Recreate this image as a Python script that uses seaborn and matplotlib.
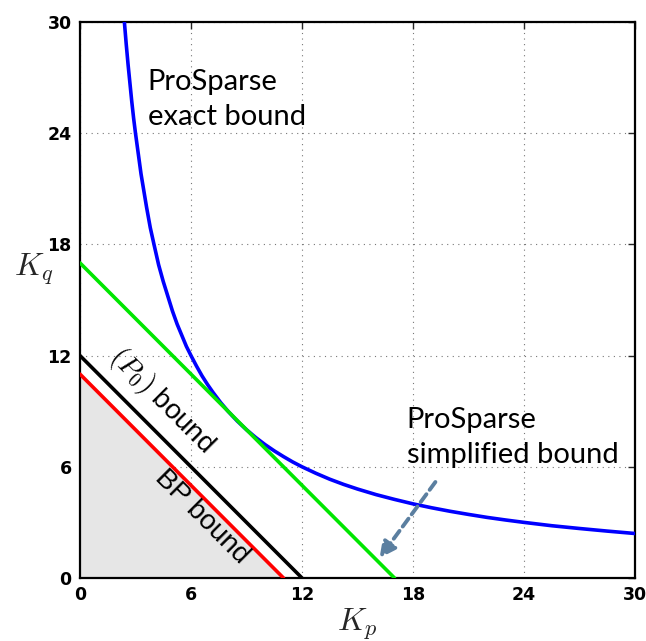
import matplotlib
matplotlib.use("Agg")
import matplotlib.pyplot as plt
import seaborn as sns

# values
kp_exact = [2.4, 2.5, 2.6, 2.7, 2.8, 2.9, 3.0, 3.15, 3.3, 3.45, 3.6, 3.8, 4.0, 4.25,
            4.5, 4.75, 5.0, 5.25, 5.5, 5.75, 6.0, 6.3, 6.6, 6.9, 7.2, 7.6, 8.0,
            8.5, 9.0, 9.5, 10.0, 10.5, 11.0, 11.5, 12.0, 12.75, 13.5, 14.25, 15.0,
            16.0, 17.0, 18.0, 19.0, 20.0, 21.0, 22.0, 23.0, 24.0, 25.5, 27.0,
            28.5, 30.0]
kq_exact = [30.0, 28.8, 27.7, 26.7, 25.7, 24.8, 24.0, 22.9, 21.8, 20.9, 20.0, 18.9,
            18.0, 16.9, 16.0, 15.2, 14.4, 13.7, 13.1, 12.5, 12.0, 11.43, 10.9,
            10.43, 10.0, 9.47, 9.0, 8.47, 8.0, 7.58, 7.2, 6.86, 6.55, 6.26, 6.0,
            5.65, 5.33, 5.05, 4.8, 4.5, 4.24, 4.0, 3.79, 3.6, 3.43, 3.27, 3.13,
            3.0, 2.82, 2.67, 2.53, 2.4]
kp_simple = [0.0, 17.0]
kq_simple = [17.0, 0.0]
kp_p0 = [0.0, 12.0]
kq_p0 = [12.0, 0.0]
kp_bp = [0.0, 11.0]
kq_bp = [11.0, 0.0]
ticks = [0, 6, 12, 18, 24, 30]

sns.set_style("white")
plt.rcParams["mathtext.fontset"] = "cm"
plt.rcParams["text.color"] = "black"

fig = plt.figure(figsize=(6.46, 6.41), dpi=100)
ax = fig.add_axes([0.1238, 0.0983, 0.8592, 0.8674])

ax.fill_between(kp_bp, kq_bp, 0, color="#e6e6e6", zorder=1)
sns.lineplot(x=kp_exact, y=kq_exact, color="#0000ff", lw=2.6, sort=False, ax=ax, zorder=3)
sns.lineplot(x=kp_simple, y=kq_simple, color="#00e600", lw=2.6, sort=False, ax=ax, zorder=3)
sns.lineplot(x=kp_p0, y=kq_p0, color="black", lw=2.6, sort=False, ax=ax, zorder=3)
sns.lineplot(x=kp_bp, y=kq_bp, color="#ff0000", lw=2.6, sort=False, ax=ax, zorder=3)

ax.set_xlim(0, 30)
ax.set_ylim(0, 30)
ax.set_xticks(ticks)
ax.set_yticks(ticks)
ax.set_xticklabels([str(t) for t in ticks])
ax.set_yticklabels([str(t) for t in ticks])
for lab in ax.get_xticklabels() + ax.get_yticklabels():
    lab.set_fontfamily("DejaVu Sans")
    lab.set_fontweight("bold")
    lab.set_fontsize(12.5)
    lab.set_color("black")
ax.tick_params(direction="in", top=True, right=True, length=5, width=1, pad=6)
ax.grid(True, linestyle=(0, (1, 4)), color="#777777", lw=0.8)
for sp in ax.spines.values():
    sp.set_linewidth(1.6)
    sp.set_color("black")

ax.set_xlabel("$K_p$", fontsize=23, labelpad=2)
ax.set_ylabel("$K_q$", fontsize=23, rotation=0, va="center", ha="center")
ax.yaxis.set_label_coords(-0.083, 0.555)

ax.text(3.65, 27.45, "ProSparse\nexact bound", fontsize=21, family="Lato",
        va="top", ha="left", linespacing=1.4)
ax.text(17.65, 9.2, "ProSparse\nsimplified bound", fontsize=21, family="Lato",
        va="top", ha="left", linespacing=1.4)
ax.text(4.4, 9.6, r"$(P_0)$ bound", fontsize=20, rotation=-45,
        ha="center", va="center", family="Liberation Sans", rotation_mode="anchor")
ax.text(6.6, 3.3, "BP bound", fontsize=20, rotation=-45,
        ha="center", va="center", family="Liberation Sans", rotation_mode="anchor")

ax.annotate("", xy=(16.1, 0.95), xytext=(19.3, 5.3),
            arrowprops=dict(arrowstyle="-|>", color="#5b7fa0", lw=2.8,
                            linestyle=(0, (2.5, 1.4)), mutation_scale=24))

fig.savefig("out.png", dpi=100)
